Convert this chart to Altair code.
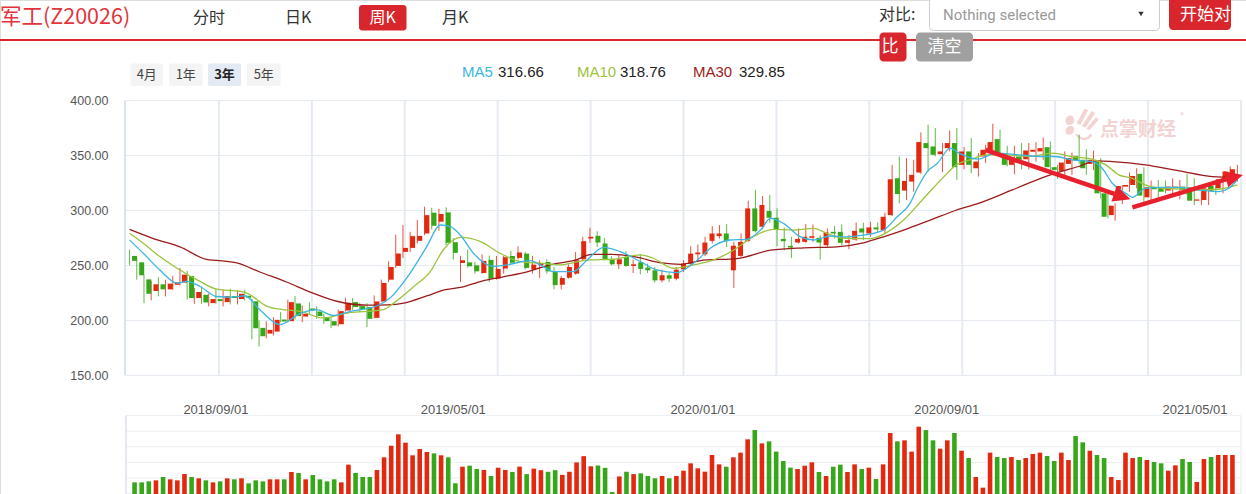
import altair as alt
import pandas as pd

# ---------------- data ----------------
opens = [258.7, 252.9, 237.4, 226.8, 232.9, 228.3, 232.5, 234.4, 240.5, 220.4,
         223.4, 215.8, 219.5, 216.7, 222.2, 219.5, 222.5, 217.6, 193.3, 188.1,
         189.9, 200.9, 199.4, 215.5, 203.6, 210.9, 208.2, 203.0, 199.4, 196.6,
         209.1, 216.7, 213.1, 212.2, 202.4, 217.3, 237.1, 249.6, 262.4, 266.0,
         272.4, 279.1, 298.0, 289.8, 298.3, 271.2, 252.3, 252.9, 250.2, 243.2,
         255.1, 238.0, 247.2, 258.7, 256.9, 260.8, 246.5, 250.2, 253.2, 244.1,
         232.5, 238.9, 242.6, 255.7, 274.5, 277.0, 270.0, 255.4, 251.1, 257.8,
         249.6, 252.9, 248.1, 245.6, 236.5, 241.1, 238.0, 246.5, 251.7, 260.2,
         260.2, 272.4, 276.7, 279.1, 245.6, 258.7, 272.4, 301.9, 285.2, 299.5,
         293.4, 274.2, 267.8, 270.9, 271.5, 275.2, 275.2, 268.5, 280.6, 280.6,
         270.6, 273.6, 283.7, 279.1, 284.6, 282.2, 295.8, 329.3, 318.1, 326.3,
         334.5, 361.3, 358.2, 351.2, 356.7, 361.3, 341.5, 353.7, 338.4, 349.1,
         354.6, 364.9, 352.1, 341.5, 349.1, 346.7, 353.4, 353.7, 357.6, 339.4,
         336.0, 342.4, 349.7, 346.1, 342.4, 344.5, 315.6, 295.8, 315.0, 321.7,
         323.2, 333.3, 312.0, 321.1, 321.1, 318.1, 320.8, 321.7, 321.1, 308.9,
         309.5, 322.3, 320.2, 327.2, 330.8]
closes = [254.2, 241.1, 224.3, 232.9, 228.3, 233.5, 234.7, 241.7, 220.4, 225.9,
          216.4, 219.5, 217.6, 222.2, 220.4, 224.3, 220.7, 193.0, 185.7, 191.5,
          200.6, 199.1, 216.7, 204.0, 206.1, 209.1, 204.0, 199.4, 195.4, 208.5,
          216.1, 212.2, 210.0, 201.5, 217.3, 234.1, 248.7, 260.9, 266.0, 276.7,
          276.9, 295.8, 286.1, 296.8, 270.6, 261.5, 254.8, 249.3, 244.7, 254.2,
          238.0, 246.9, 257.5, 252.6, 261.8, 247.8, 250.8, 252.3, 244.7, 232.2,
          238.6, 248.7, 254.8, 272.1, 276.1, 270.9, 255.7, 251.1, 255.7, 249.6,
          251.1, 246.9, 245.6, 236.5, 241.1, 238.0, 246.2, 251.7, 260.8, 261.8,
          270.9, 279.1, 279.1, 272.1, 268.0, 271.5, 301.9, 281.2, 305.0, 293.4,
          283.1, 272.1, 266.3, 274.2, 276.1, 276.7, 270.9, 280.0, 279.1, 270.6,
          273.0, 281.5, 280.0, 284.6, 282.8, 294.3, 328.4, 315.0, 326.9, 332.4,
          362.2, 356.7, 350.6, 353.7, 361.3, 339.4, 353.7, 341.5, 344.5, 355.2,
          362.2, 352.1, 341.5, 348.5, 346.1, 354.6, 355.2, 356.7, 339.4, 336.9,
          343.6, 347.6, 345.4, 338.4, 346.1, 315.6, 294.3, 304.4, 322.3, 323.2,
          331.4, 313.5, 321.1, 319.3, 317.1, 321.7, 321.7, 318.7, 308.9, 310.1,
          320.2, 317.8, 328.4, 335.4, 337.5]
highs = [264.5, 256.3, 241.7, 235.9, 239.5, 237.1, 240.5, 247.8, 245.0, 229.5,
         231.0, 224.6, 228.6, 228.0, 228.9, 227.4, 228.0, 219.8, 200.0, 199.4,
         203.0, 207.6, 218.9, 222.2, 213.7, 216.7, 212.8, 206.1, 203.0, 210.0,
         220.7, 220.4, 216.1, 215.8, 222.8, 237.1, 253.8, 277.9, 286.7, 280.6,
         291.3, 303.4, 302.5, 301.6, 302.8, 274.8, 258.7, 264.5, 253.2, 260.2,
         259.0, 258.7, 258.7, 263.3, 267.5, 262.4, 258.7, 254.8, 255.9, 248.7,
         240.5, 251.1, 262.4, 276.1, 284.3, 281.2, 275.2, 258.4, 259.9, 263.0,
         255.4, 260.2, 251.7, 248.7, 246.2, 243.2, 248.7, 254.8, 267.5, 269.1,
         276.1, 285.8, 286.7, 287.6, 271.5, 279.1, 308.9, 318.7, 313.2, 314.1,
         301.9, 284.6, 276.1, 283.7, 287.6, 287.3, 277.6, 283.7, 285.8, 287.3,
         277.6, 289.1, 288.8, 289.7, 289.1, 298.0, 341.5, 349.1, 347.6, 346.1,
         371.0, 378.0, 375.0, 361.3, 372.8, 375.0, 357.6, 365.8, 352.1, 359.7,
         378.9, 373.4, 358.8, 358.8, 361.3, 361.3, 362.2, 366.4, 362.8, 341.5,
         353.7, 352.7, 368.9, 355.8, 354.6, 347.6, 318.7, 306.5, 323.2, 334.5,
         338.4, 339.4, 327.2, 327.8, 327.2, 329.3, 327.8, 333.3, 329.3, 317.1,
         324.8, 324.8, 335.4, 340.0, 341.5]
lows = [250.2, 237.1, 215.8, 218.3, 221.9, 221.9, 228.0, 231.9, 218.9, 215.2,
        215.2, 212.8, 215.2, 212.8, 214.6, 214.6, 218.3, 183.0, 176.3, 183.9,
        186.3, 198.2, 198.5, 200.9, 198.5, 206.1, 201.5, 197.0, 193.0, 194.5,
        208.2, 209.7, 207.6, 193.9, 201.8, 216.7, 235.0, 247.8, 256.9, 262.4,
        270.0, 277.6, 282.8, 281.5, 268.2, 255.4, 235.0, 248.1, 242.6, 242.6,
        235.0, 237.1, 242.6, 251.1, 255.4, 246.5, 242.6, 238.6, 242.6, 228.3,
        228.3, 238.0, 241.7, 254.2, 270.6, 266.9, 254.8, 250.2, 246.9, 248.7,
        243.2, 242.0, 243.2, 234.4, 234.7, 235.0, 236.5, 244.1, 250.2, 253.2,
        258.4, 270.0, 274.5, 266.9, 229.5, 257.8, 271.5, 280.0, 283.1, 288.8,
        267.5, 263.9, 256.9, 270.0, 270.6, 271.5, 255.4, 266.9, 274.5, 268.5,
        264.8, 272.4, 273.0, 276.1, 279.7, 279.1, 294.9, 306.5, 309.5, 317.1,
        333.3, 335.4, 349.1, 334.8, 353.7, 327.8, 337.5, 333.9, 330.8, 343.0,
        352.1, 349.1, 340.0, 333.0, 337.5, 337.5, 344.5, 346.1, 336.9, 328.7,
        332.4, 332.4, 342.4, 332.4, 336.9, 311.0, 292.8, 290.7, 305.9, 317.1,
        320.2, 308.0, 308.9, 312.0, 315.6, 315.6, 310.1, 314.1, 305.0, 305.0,
        305.0, 314.1, 315.6, 323.2, 326.3]
volumes = [34.4, 34.4, 35.7, 37.0, 41.3, 38.3, 37.0, 45.1, 41.3, 39.6,
           37.0, 34.4, 35.7, 39.6, 38.3, 39.6, 33.2, 37.0, 35.7, 38.3,
           38.3, 38.3, 47.7, 46.4, 38.3, 43.8, 38.3, 35.7, 38.3, 34.4,
           57.1, 46.4, 41.3, 41.3, 50.3, 66.5, 81.4, 96.0, 85.3, 69.1,
           77.2, 73.3, 71.6, 69.1, 66.5, 33.2, 54.5, 55.8, 51.5, 50.3,
           42.6, 53.2, 50.3, 47.7, 54.5, 45.0, 52.0, 50.0, 48.0, 50.0,
           44.0, 48.0, 60.0, 68.0, 55.0, 56.0, 53.0, 22.0, 42.0, 48.0,
           45.0, 46.0, 42.6, 39.6, 42.6, 39.6, 42.6, 49.4, 58.8, 52.4,
           48.1, 69.5, 57.5, 54.5, 66.5, 72.5, 89.6, 101.5, 84.4, 87.0,
           73.8, 61.8, 53.3, 51.5, 55.8, 60.1, 47.7, 42.6, 54.5, 57.1,
           47.7, 57.5, 51.5, 53.3, 38.7, 57.5, 97.7, 87.0, 88.3, 73.8,
           105.8, 101.5, 88.3, 77.6, 88.3, 97.7, 75.0, 65.6, 41.3, 27.6,
           72.5, 66.9, 65.6, 66.9, 63.1, 65.6, 70.8, 72.5, 68.2, 61.8,
           72.5, 63.1, 93.8, 85.7, 75.0, 69.5, 65.6, 41.3, 37.4, 72.5,
           65.6, 66.9, 63.1, 60.5, 58.8, 49.4, 56.2, 64.3, 60.5, 34.9,
           64.3, 66.9, 69.5, 69.5, 69.5]

ma5_i = [0, 1.9, 4.2, 6.6, 7.9, 9.8, 12.1, 14.4, 16.0, 18.1, 20.9, 23.7, 26.0, 28.3, 30.7,
         34.4, 36.2, 39.0, 41.3, 43.2, 44.6, 46.0, 47.8, 50.6, 52.4, 55.7, 57.1, 58.9, 61.7,
         63.6, 65.9, 68.2, 71.0, 73.3, 76.1, 78.4, 81.2, 83.5, 85.8, 87.7, 89.1, 90.9, 93.2,
         95.1, 97.4, 99.3, 102.0, 104.8, 106.7, 108.5, 109.5, 110.9, 112.3, 114.1, 115.3,
         118.0, 120.4, 123.6, 126.9, 128.7, 131.0, 133.8, 135.2, 136.6, 138.5, 139.4, 141.2,
         143.5, 145.9, 148.6, 151.4, 152.8, 154.0]
ma5_v = [273.2, 261.1, 246.0, 234.0, 235.5, 230.9, 221.8, 221.3, 222.5, 209.8, 196.2, 206.2,
         209.8, 204.6, 208.3, 213.4, 220.4, 243.0, 267.1, 286.8, 285.3, 277.5, 261.1, 249.1,
         250.5, 254.4, 250.5, 244.5, 244.5, 255.1, 266.5, 262.6, 253.6, 246.0, 243.6, 252.1,
         267.8, 273.2, 273.8, 282.2, 292.8, 288.3, 276.2, 273.2, 276.8, 276.1, 277.6, 282.2,
         294.3, 306.5, 320.2, 335.4, 343.0, 356.7, 352.1, 346.7, 352.1, 350.6, 349.1, 349.1,
         346.1, 344.5, 338.4, 324.8, 315.6, 312.0, 320.2, 321.1, 321.1, 318.7, 317.1, 320.2,
         328.0]
ma10_i = [0, 1.9, 4.2, 6.6, 9.8, 12.1, 15.4, 16.3, 19.1, 21.4, 23.7, 26.9, 30.2, 33.0, 35.3,
          36.7, 39.5, 41.8, 43.6, 46.0, 48.8, 51.5, 54.3, 57.1, 59.9, 61.7, 64.0, 67.2, 71.0,
          72.8, 75.6, 78.4, 81.2, 84.0, 86.7, 89.5, 92.3, 95.1, 96.9, 99.0, 103.0, 105.4,
          107.6, 110.4, 113.2, 114.8, 117.1, 119.0, 121.8, 125.0, 128.3, 131.0, 133.8, 135.7,
          137.5, 139.4, 141.2, 143.5, 145.9, 148.6, 151.4, 154.0]
ma10_v = [279.3, 270.2, 258.1, 247.5, 235.5, 228.5, 226.4, 224.9, 212.9, 209.8, 208.3, 202.3,
          206.8, 208.3, 209.8, 215.8, 230.9, 244.5, 264.1, 275.5, 271.7, 261.1, 253.6, 252.1,
          250.5, 252.7, 255.1, 255.7, 259.6, 256.6, 247.5, 250.5, 255.1, 264.1, 276.2, 282.9,
          282.2, 283.8, 279.3, 275.0, 274.5, 280.6, 291.3, 311.1, 330.8, 341.0, 346.7, 350.6,
          350.6, 349.1, 352.1, 349.1, 346.7, 341.5, 332.4, 329.3, 323.2, 320.2, 319.6, 318.7,
          319.3, 323.2]
ma30_i = [0, 3.3, 7.0, 10.7, 12.1, 14.9, 18.1, 21.8, 25.3, 28.8, 33.0, 35.8, 38.3, 41.3, 43.9,
          46.2, 49.0, 51.8, 55.5, 58.2, 61.9, 64.3, 67.1, 70.3, 74.0, 76.6, 79.8, 84.4, 89.1,
          93.7, 98.3, 102.0, 104.8, 107.6, 111.3, 114.8, 118.0, 122.7, 127.3, 131.9, 134.5,
          136.6, 141.2, 145.9, 150.5, 154.0]
ma30_v = [282.8, 274.5, 266.9, 255.5, 254.6, 252.3, 244.1, 235.0, 225.4, 217.5, 214.0, 214.2,
          216.1, 222.3, 228.0, 230.4, 235.9, 239.5, 244.7, 250.2, 254.8, 260.2, 260.2, 257.8,
          252.3, 251.1, 254.8, 256.3, 263.9, 266.0, 266.9, 270.6, 276.1, 282.2, 291.3, 300.0,
          306.5, 318.7, 330.8, 340.0, 345.1, 344.5, 341.5, 336.0, 330.8, 329.9]

price_ticks = [150, 200, 250, 300, 350, 400]
vol_ticks = [20, 40, 60, 80, 100, 120]
date_labels = ["2018/09/01", "2019/05/01", "2020/01/01", "2020/09/01", "2021/05/01"]
date_pos = [12.0, 45.0, 79.7, 113.6, 148.1]

# trend arrows drawn on the chart (candle index, price)
arrow_x1 = [119.0, 139.4]
arrow_y1 = [355.0, 302.9]
arrow_x2 = [136.9, 152.5]
arrow_y2 = [315.1, 328.5]
head_x = [138.0, 153.6]
head_y = [312.7, 330.4]
head_angle = [18.7, 345.6]

legend_names = ["MA5", "MA10", "MA30"]
legend_values = ["316.66", "318.76", "329.85"]

# ---------------- styling ----------------
RED = "#e2290f"
GREEN = "#37a71a"
C_MA5 = "#3db5e2"
C_MA10 = "#9cc33c"
C_MA30 = "#9b1b1b"
GRID = "#e6ebf2"
CJK = "Noto Sans CJK SC"
LAT = "Liberation Sans"

N = len(closes)
XS = alt.Scale(domain=[-0.5, N - 0.5], range=[126, 1241])
PS = alt.Scale(domain=[150, 400], range=[375.5, 100.5])
VS = alt.Scale(domain=[0, 120], range=[509.2, 415.6])

df = pd.DataFrame({
    "i": list(range(N)), "o": opens, "c": closes, "h": highs, "l": lows, "v": volumes,
})
df["dir"] = ["up" if c >= o else "down" for o, c in zip(opens, closes)]
color = alt.Color("dir:N", scale=alt.Scale(domain=["up", "down"], range=[RED, GREEN]), legend=None)

ONE = alt.Data(values=[{"a": 1}])


def box(x1, x2, y1, y2, fill, stroke=None, r=3):
    kw = {"fill": fill, "cornerRadius": r}
    if stroke:
        kw.update(stroke=stroke, strokeWidth=1)
    return alt.Chart(ONE).mark_rect(**kw).encode(
        x=alt.value(x1), x2=alt.value(x2), y=alt.value(y1), y2=alt.value(y2))


def txt(s, x, y, size, col, align="left", weight="normal", font=CJK):
    return alt.Chart(ONE).mark_text(
        fontSize=size, color=col, align=align, baseline="middle", font=font, fontWeight=weight
    ).encode(x=alt.value(x), y=alt.value(y), text=alt.value(s))


def hline(x1, x2, y, col, w=1):
    return alt.Chart(ONE).mark_rule(color=col, strokeWidth=w).encode(
        x=alt.value(x1), x2=alt.value(x2), y=alt.value(y))


def vline(x, y1, y2, col, w=1):
    return alt.Chart(ONE).mark_rule(color=col, strokeWidth=w).encode(
        x=alt.value(x), y=alt.value(y1), y2=alt.value(y2))


layers = []

# ----- header -----
layers.append(hline(0, 1246, 40, "#d9262c", 2))
layers.append(txt("军工(Z20026)", 0, 18, 21.5, "#e3343c"))
layers.append(txt("分时", 193, 18, 16, "#333333"))
layers.append(txt("日K", 285, 18, 16, "#333333"))
layers.append(box(359, 406.5, 5, 30.5, "#d9262c"))
layers.append(txt("周K", 382.7, 18, 16, "#ffffff", align="center"))
layers.append(txt("月K", 442, 18, 16, "#333333"))
layers.append(txt("对比:", 879, 15, 16, "#333333"))
layers.append(box(929.5, 1159.5, -2, 30.5, "#ffffff", stroke="#cccccc", r=4))
layers.append(txt("Nothing selected", 943, 15, 15, "#999999", font="Roboto"))
layers.append(alt.Chart(ONE).mark_point(shape="triangle-down", filled=True, size=28, color="#333333",
                                        opacity=1).encode(x=alt.value(1141), y=alt.value(14)))
layers.append(box(1169, 1231, -4, 30, "#d9262c", r=4))
layers.append(txt("开始对", 1180, 15, 17, "#ffffff"))
layers.append(box(879.5, 906.5, 32.5, 61.5, "#d9262c", r=4))
layers.append(txt("比", 881.5, 47, 17, "#ffffff"))
layers.append(box(916, 973, 32.5, 61.5, "#a0a0a0", r=4))
layers.append(txt("清空", 944.5, 47, 17, "#ffffff", align="center"))

# range buttons
for (lab, x1, x2, bg, wt) in [("4月", 130.5, 163, "#f4f4f4", "normal"), ("1年", 169, 202.5, "#f4f4f4", "normal"),
                              ("3年", 208, 241, "#e4eaf4", "bold"), ("5年", 247, 280.5, "#f4f4f4", "normal")]:
    layers.append(box(x1, x2, 63.5, 86, bg, r=2))
    layers.append(txt(lab, (x1 + x2) / 2, 74.5, 13, "#222222" if wt == "bold" else "#444444",
                      align="center", weight=wt))

# MA legend
for name, val, col, xn, xv in zip(legend_names, legend_values, [C_MA5, C_MA10, C_MA30],
                                  [462, 577, 693], [498, 620, 739]):
    layers.append(txt(name, xn, 72, 15, col, font=LAT))
    layers.append(txt(val, xv, 72, 15, "#222222", font=LAT))

# ----- main price panel grid -----
pt = pd.DataFrame({"p": price_ticks})
layers.append(alt.Chart(pt).mark_rule(color=GRID, strokeWidth=1).encode(
    y=alt.Y("p:Q", scale=PS, axis=None), x=alt.value(126), x2=alt.value(1241)))
layers.append(alt.Chart(pt).mark_text(align="right", baseline="middle", fontSize=12.5, font=LAT,
                                      color="#555555").encode(
    y=alt.Y("p:Q", scale=PS, axis=None), x=alt.value(108.5), text=alt.Text("p:Q", format=".2f")))
vg = pd.DataFrame({"g": [-0.5 + k * N / 12 for k in range(1, 13)]})
layers.append(alt.Chart(vg).mark_rule(color=GRID, strokeWidth=2).encode(
    x=alt.X("g:Q", scale=XS, axis=None), y=alt.value(100.5), y2=alt.value(375.5)))
layers.append(vline(125, 100.5, 375.5, "#cfd8ea", 1.5))

# watermark
layers.append(txt("点掌财经", 1100, 130, 19, "#f3d2d2", weight="bold"))
layers.append(txt("®", 1180, 116, 8, "#f0cccc"))
logo = ("M -0.95 -0.2 C -0.9 -0.7 -0.4 -0.6 -0.45 -0.25 C -0.5 0.05 -0.9 0.1 -0.95 -0.2 Z "
        "M -0.95 0.35 C -0.9 -0.05 -0.4 0.0 -0.45 0.3 C -0.5 0.6 -0.9 0.65 -0.95 0.35 Z "
        "M -0.3 -0.1 L 0.15 -0.95 L 0.35 -0.85 L -0.1 0.0 Z "
        "M 0.0 0.05 L 0.55 -0.8 L 0.75 -0.68 L 0.2 0.15 Z "
        "M 0.25 0.2 L 0.8 -0.45 L 0.95 -0.3 L 0.4 0.32 Z "
        "M -0.4 0.55 C -0.1 0.95 0.4 0.95 0.6 0.55 L 0.45 0.5 C 0.3 0.8 -0.05 0.8 -0.25 0.5 Z")
layers.append(alt.Chart(ONE).mark_point(shape=logo, filled=True, size=1225, color="#f3d2d2",
                                        opacity=1).encode(x=alt.value(1082), y=alt.value(125)))

# ----- candles -----
base = alt.Chart(df)
layers.append(base.mark_rule(strokeWidth=1, opacity=0.8).encode(
    x=alt.X("i:Q", scale=XS, axis=None), y=alt.Y("l:Q", scale=PS, axis=None), y2="h:Q", color=color))
layers.append(base.mark_bar(size=5).encode(
    x=alt.X("i:Q", scale=XS, axis=None), y=alt.Y("o:Q", scale=PS, axis=None), y2="c:Q", color=color))

# ----- moving averages -----
for xi, yv, col in [(ma30_i, ma30_v, C_MA30), (ma10_i, ma10_v, C_MA10), (ma5_i, ma5_v, C_MA5)]:
    d = pd.DataFrame({"x": xi, "y": yv})
    layers.append(alt.Chart(d).mark_line(color=col, strokeWidth=1.3, interpolate="monotone").encode(
        x=alt.X("x:Q", scale=XS, axis=None), y=alt.Y("y:Q", scale=PS, axis=None)))

# ----- arrows -----
ad = pd.DataFrame({"x1": arrow_x1, "y1": arrow_y1, "x2": arrow_x2, "y2": arrow_y2,
                   "hx": head_x, "hy": head_y, "ang": head_angle})
layers.append(alt.Chart(ad).mark_rule(color="#e8202b", strokeWidth=4.5).encode(
    x=alt.X("x1:Q", scale=XS, axis=None), x2="x2:Q",
    y=alt.Y("y1:Q", scale=PS, axis=None), y2="y2:Q"))
layers.append(alt.Chart(ad).mark_point(shape="M 1 0 L -1 -0.95 L -1 0.95 Z", filled=True, size=300,
                                       color="#e8202b", opacity=1).encode(
    x=alt.X("hx:Q", scale=XS, axis=None), y=alt.Y("hy:Q", scale=PS, axis=None),
    angle=alt.Angle("ang:Q", scale=None)))

# ----- volume panel -----
vt = pd.DataFrame({"t": vol_ticks})
layers.append(alt.Chart(vt).mark_rule(color="#eceff4", strokeWidth=1).encode(
    y=alt.Y("t:Q", scale=VS, axis=None), x=alt.value(126), x2=alt.value(1241)))
layers.append(vline(126, 415.6, 494, "#dde3ee", 1.5))
layers.append(vline(1241, 415.6, 494, "#eceff4", 1.5))
layers.append(base.mark_bar(size=4.6).encode(
    x=alt.X("i:Q", scale=XS, axis=None), y=alt.Y("v:Q", scale=VS, axis=None), y2=alt.datum(0),
    color=color))
dl = pd.DataFrame({"pos": date_pos, "lab": date_labels})
layers.append(alt.Chart(dl).mark_text(align="center", baseline="middle", fontSize=13, font=LAT,
                                      color="#555555").encode(
    x=alt.X("pos:Q", scale=XS, axis=None), y=alt.value(410), text="lab:N"))

chart = alt.layer(*layers).resolve_scale(
    x="independent", y="independent", color="independent"
).properties(
    width=1246, height=494, autosize=alt.AutoSizeParams(type="none"), padding=0
).configure_view(strokeWidth=0).configure(background="#ffffff")

chart.save("out.html", embed_options={"renderer": "svg", "actions": False})
